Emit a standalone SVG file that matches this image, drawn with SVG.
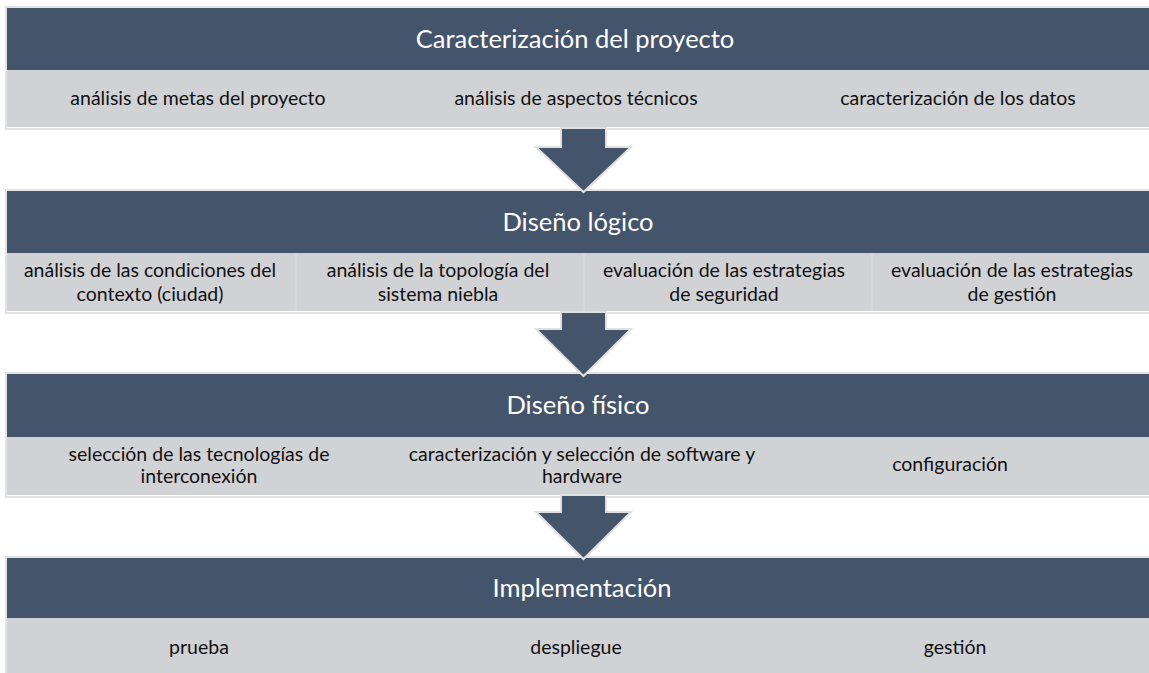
<svg xmlns="http://www.w3.org/2000/svg" width="1149" height="673" viewBox="0 0 1149 673">
<style>
.bg{fill:#ffffff}
.frame{fill:none;stroke:#e4e4e4;stroke-width:2}
.hdr{fill:#44546a}
.sub{fill:#d1d2d6}
.sep{stroke:#dcdde0;stroke-width:1}
.title{font-family:Lato,"Liberation Sans",sans-serif;font-size:25.5px;fill:#ffffff;text-anchor:middle}
.item{font-family:Lato,"Liberation Sans",sans-serif;font-size:19.5px;fill:#111111;text-anchor:middle}
.arrow{fill:#44546a;stroke:#e0e0e0;stroke-width:2;stroke-linejoin:miter}
</style>
<rect class="bg" x="0" y="0" width="1149" height="673"/>

<g id="band1">
<rect class="frame" x="6" y="7" width="1145" height="122"/>
<rect class="hdr" x="7" y="8" width="1142" height="62"/>
<rect class="sub" x="7" y="70" width="1142" height="57"/>
<text class="title" x="575" y="48">Caracterización del proyecto</text>
<text class="item" x="198" y="105">análisis de metas del proyecto</text>
<text class="item" x="576" y="105">análisis de aspectos técnicos</text>
<text class="item" x="958" y="105">caracterización de los datos</text>
</g>

<g id="band2">
<rect class="frame" x="6" y="190" width="1145" height="123"/>
<rect class="hdr" x="7" y="191" width="1142" height="62"/>
<rect class="sub" x="7" y="253" width="1142" height="58"/>
<line class="sep" x1="296" y1="253" x2="296" y2="311"/>
<line class="sep" x1="584" y1="253" x2="584" y2="311"/>
<line class="sep" x1="872" y1="253" x2="872" y2="311"/>
<text class="title" x="578" y="231">Diseño lógico</text>
<text class="item" x="150" y="277">análisis de las condiciones del</text>
<text class="item" x="150" y="301">contexto (ciudad)</text>
<text class="item" x="438" y="277">análisis de la topología del</text>
<text class="item" x="438" y="301">sistema niebla</text>
<text class="item" x="724" y="277">evaluación de las estrategias</text>
<text class="item" x="724" y="301">de seguridad</text>
<text class="item" x="1012" y="277">evaluación de las estrategias</text>
<text class="item" x="1012" y="301">de gestión</text>
</g>

<g id="band3">
<rect class="frame" x="6" y="373" width="1145" height="124"/>
<rect class="hdr" x="7" y="374" width="1142" height="63"/>
<rect class="sub" x="7" y="437" width="1142" height="58"/>
<text class="title" x="578" y="414">Diseño físico</text>
<text class="item" x="199" y="461">selección de las tecnologías de</text>
<text class="item" x="199" y="483">interconexión</text>
<text class="item" x="582" y="461">caracterización y selección de software y</text>
<text class="item" x="582" y="483">hardware</text>
<text class="item" x="950" y="471">configuración</text>
</g>

<g id="band4">
<rect class="frame" x="6" y="557" width="1145" height="120"/>
<rect class="hdr" x="7" y="558" width="1142" height="60"/>
<rect class="sub" x="7" y="618" width="1142" height="56"/>
<text class="title" x="582" y="597">Implementación</text>
<text class="item" x="199" y="654">prueba</text>
<text class="item" x="576" y="654">despliegue</text>
<text class="item" x="955" y="654">gestión</text>
</g>

<g id="connectors">
<polygon class="arrow" points="561,128 606,128 606,147 631,147 583.5,192 536,147 561,147"/>
<polygon class="arrow" points="561,312 606,312 606,329 631,329 583.5,376 536,329 561,329"/>
<polygon class="arrow" points="561,495 606,495 606,512 631,512 583.5,559 536,512 561,512"/>
</g>
</svg>
